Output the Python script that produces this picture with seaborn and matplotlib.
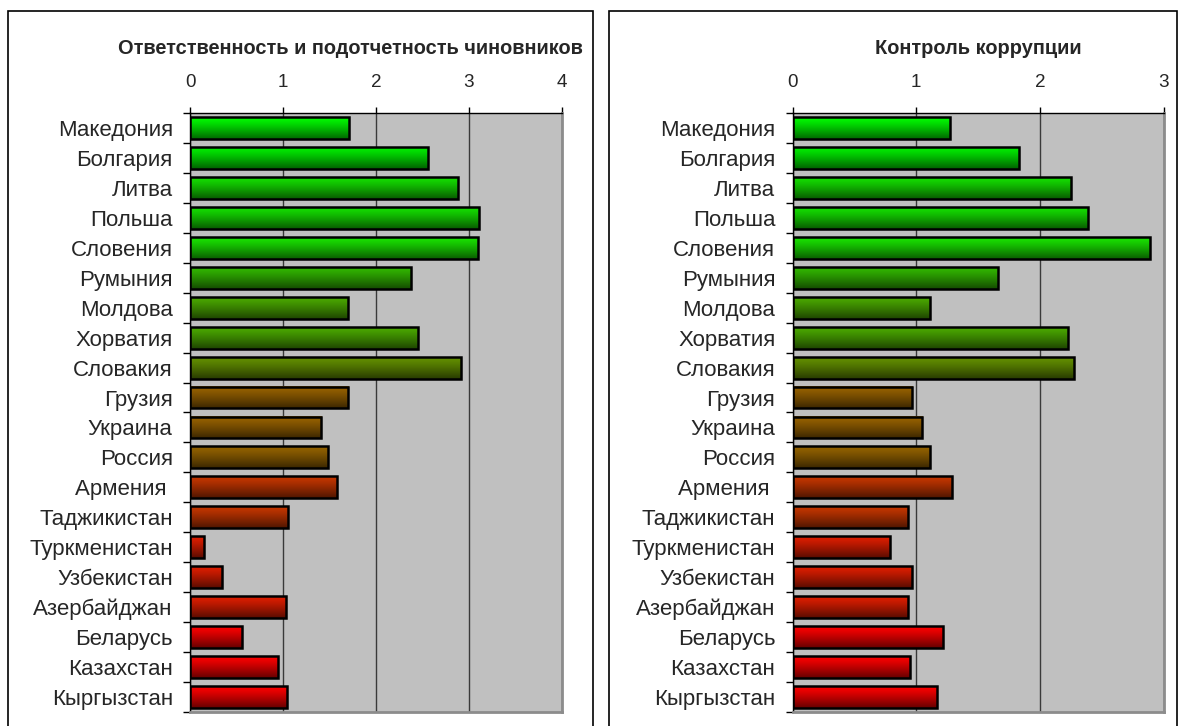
import numpy as np
import pandas as pd
import matplotlib
matplotlib.use("Agg")
import matplotlib.pyplot as plt
from matplotlib.patches import Rectangle
import seaborn as sns

countries = ["Македония", "Болгария", "Литва", "Польша", "Словения", "Румыния",
             "Молдова", "Хорватия", "Словакия", "Грузия", "Украина", "Россия",
             "Армения ", "Таджикистан", "Туркменистан", "Узбекистан",
             "Азербайджан", "Беларусь", "Казахстан", "Кыргызстан"]

accountability = [1.71, 2.56, 2.88, 3.11, 3.10, 2.38, 1.70, 2.45, 2.91, 1.70,
                  1.41, 1.48, 1.58, 1.05, 0.15, 0.34, 1.03, 0.56, 0.95, 1.04]

corruption = [1.27, 1.83, 2.25, 2.39, 2.89, 1.66, 1.11, 2.23, 2.28, 0.97,
              1.05, 1.11, 1.29, 0.93, 0.79, 0.97, 0.93, 1.22, 0.95, 1.17]

bar_colors = ["#00FF00", "#00F000", "#14E100", "#14E100", "#19E600", "#32B900",
              "#4BAA00", "#4BAA00", "#649100", "#9B6400", "#9B6400", "#966400",
              "#C83700", "#C83700", "#E11E00", "#E11E00", "#E11E00",
              "#FF0000", "#FF0000", "#FF0000"]

title_left = "Ответственность и подотчетность чиновников"
title_right = "Контроль коррупции"

sns.set_style("white")
plt.rcParams["font.family"] = ["Liberation Sans", "DejaVu Sans"]

W, H = 1178, 726
fig = plt.figure(figsize=(W / 100, H / 100), dpi=100)
fig.patch.set_facecolor("white")

ax_l = fig.add_axes([190 / W, 14 / H, 372 / W, 599 / H])
ax_r = fig.add_axes([792.5 / W, 14 / H, 371 / W, 599 / H])


def gradient_bars(ax, colors):
    """Replace flat bar fills with a vertical light-to-dark gradient."""
    rgb = [np.array(matplotlib.colors.to_rgb(c)) for c in colors]
    t = np.linspace(0, 1, 64)[:, None]
    for patch in list(ax.patches):
        x0, y0 = patch.get_x(), patch.get_y()
        w, h = patch.get_width(), patch.get_height()
        idx = int(round(y0 + h / 2))
        top = rgb[idx]
        shade = 1.0 - 0.6 * t ** 1.2
        grad = (top[None, :] * shade)[:, None, :]
        ax.imshow(grad, extent=(x0, x0 + w, y0 + h, y0), origin="upper",
                  aspect="auto", interpolation="bilinear", zorder=2)
        patch.set_facecolor("none")
        patch.set_edgecolor("black")
        patch.set_linewidth(1.8)
        patch.set_zorder(3)


def draw_panel(ax, values, xmax, title, title_x):
    df = pd.DataFrame({"country": countries, "value": values})
    sns.barplot(data=df, x="value", y="country", hue="country",
                palette=bar_colors, legend=False, orient="h", width=0.73,
                ax=ax, saturation=1)
    gradient_bars(ax, bar_colors)

    ax.set_facecolor("#C0C0C0")
    ax.set_xlim(0, xmax)
    ax.set_ylim(len(countries) - 0.5, -0.5)
    ax.set_xlabel("")
    ax.set_ylabel("")

    ax.xaxis.tick_top()
    ax.set_xticks(range(0, xmax + 1))
    ax.tick_params(axis="x", which="major", direction="out", length=4.5,
                   width=1, color="black", pad=11.5, labelsize=13.6,
                   top=True, bottom=False)
    ax.set_yticks(np.arange(-0.5, len(countries), 1), minor=True)
    ax.tick_params(axis="y", which="major", length=0, pad=12.4,
                   labelsize=16)
    ax.tick_params(axis="y", which="minor", direction="out", length=4.8,
                   width=1, color="black", left=True)

    ax.set_axisbelow(True)
    ax.grid(axis="x", color="#3a3a3a", linewidth=1)
    ax.grid(axis="y", visible=False)

    for side in ("top", "left"):
        ax.spines[side].set_color("black")
        ax.spines[side].set_linewidth(1)
    for side in ("right", "bottom"):
        ax.spines[side].set_color("#8c8c8c")
        ax.spines[side].set_linewidth(2)
    for s in ax.spines.values():
        s.set_zorder(4)

    ax.text(title_x, 1 + (113 - 49) / 599, title, transform=ax.transAxes,
            ha="center", va="center", fontsize=14.4, fontweight="bold")


draw_panel(ax_l, accountability, 4, title_left, (350 - 190) / 372)
draw_panel(ax_r, corruption, 3, title_right, 0.5)

# panel frames, running past the bottom edge of the canvas
top_y = 1 - 11 / H
for x0, x1 in ((8, 593), (609, 1176.5)):
    fig.patches.append(Rectangle((x0 / W, -0.1), (x1 - x0) / W, top_y + 0.1,
                                 transform=fig.transFigure, fill=False,
                                 edgecolor="black", linewidth=1.2))

fig.savefig("out.png", dpi=100)
